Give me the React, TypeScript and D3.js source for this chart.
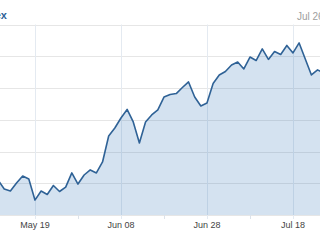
import React from "react";
import * as d3 from "d3";

// Closing values, one per trading session (equally spaced, ordinal axis)
const values: number[] = [
  1862.0, 1856.4, 1855.1, 1860.2, 1864.6, 1862.7, 1849.4, 1855.1, 1852.9, 1858.6,
  1854.8, 1857.6, 1866.5, 1859.5, 1865.2, 1868.4, 1866.5, 1873.4, 1889.8, 1894.8,
  1901.1, 1906.5, 1898.6, 1885.4, 1898.6, 1903.0, 1906.2, 1914.3, 1915.9, 1916.5,
  1920.3, 1923.8, 1914.3, 1908.7, 1910.6, 1922.8, 1928.2, 1930.4, 1934.5, 1936.4,
  1932.0, 1939.5, 1937.3, 1944.6, 1938.0, 1943.0, 1941.1, 1946.8, 1942.1, 1948.4,
  1938.3, 1928.2, 1931.4, 1929.5,
];

// x-axis labels (session index → label)
const tickIndex: number[] = [6, 20, 34, 48];
const tickLabels: string[] = ["May 19", "Jun 08", "Jun 28", "Jul 18"];
const minorTickIndex: number[] = [13, 27, 41];

// y grid values
const yGrid: number[] = [1840, 1860, 1880, 1900, 1920, 1940, 1960];

const titleText = "Price Index";
const dateText = "Jul 26, 2014";

const W = 320;
const H = 240;

export default function App() {
  const x = d3.scaleLinear().domain([0, values.length - 1]).range([-1.9, 323.7]);
  const y = d3.scaleLinear().domain([1840, 1960]).range([215, 24.5]);

  const area = d3
    .area<number>()
    .x((_, i) => x(i))
    .y0(y(1840))
    .y1((d) => y(d));
  const line = d3
    .line<number>()
    .x((_, i) => x(i))
    .y((d) => y(d));

  const font = "'Liberation Sans', Arial, sans-serif";

  return (
    <svg
      width={W}
      height={H}
      style={{ position: "fixed", left: 0, top: 0, background: "#fff" }}
      fontFamily={font}
    >
      <rect x={0} y={0} width={W} height={H} fill="#fff" />
      {/* header */}
      <text x={7} y={18.5} textAnchor="end" fontSize={11} fontWeight="bold" fill="#2f5f96">
        {titleText}
      </text>
      <text x={297} y={19.5} fontSize={10} fill="#a0a0a0">
        {dateText}
      </text>

      {/* horizontal grid */}
      {yGrid.map((v) => (
        <line
          key={"h" + v}
          x1={0}
          x2={W}
          y1={Math.round(y(v)) + 0.5}
          y2={Math.round(y(v)) + 0.5}
          stroke="#e6e6e6"
          strokeWidth={1}
        />
      ))}
      {/* vertical grid */}
      {tickIndex.map((t) => (
        <line
          key={"v" + t}
          x1={Math.round(x(t)) + 0.5}
          x2={Math.round(x(t)) + 0.5}
          y1={y(1960)}
          y2={y(1840) + 4}
          stroke="#e4eaf1"
          strokeWidth={1}
        />
      ))}
      {minorTickIndex.map((t) => (
        <line
          key={"m" + t}
          x1={Math.round(x(t)) + 0.5}
          x2={Math.round(x(t)) + 0.5}
          y1={y(1840)}
          y2={y(1840) + 4}
          stroke="#dde3ea"
          strokeWidth={1}
        />
      ))}

      {/* series */}
      <path d={area(values) || ""} fill="rgba(40,110,180,0.2)" />
      <path
        d={line(values) || ""}
        fill="none"
        stroke="#2f6296"
        strokeWidth={1.6}
        strokeLinejoin="round"
      />

      {/* x-axis labels */}
      {tickIndex.map((t, i) => (
        <text
          key={"l" + t}
          x={x(t)}
          y={228}
          textAnchor="middle"
          fontSize={9}
          fill="#444"
        >
          {tickLabels[i]}
        </text>
      ))}
    </svg>
  );
}
